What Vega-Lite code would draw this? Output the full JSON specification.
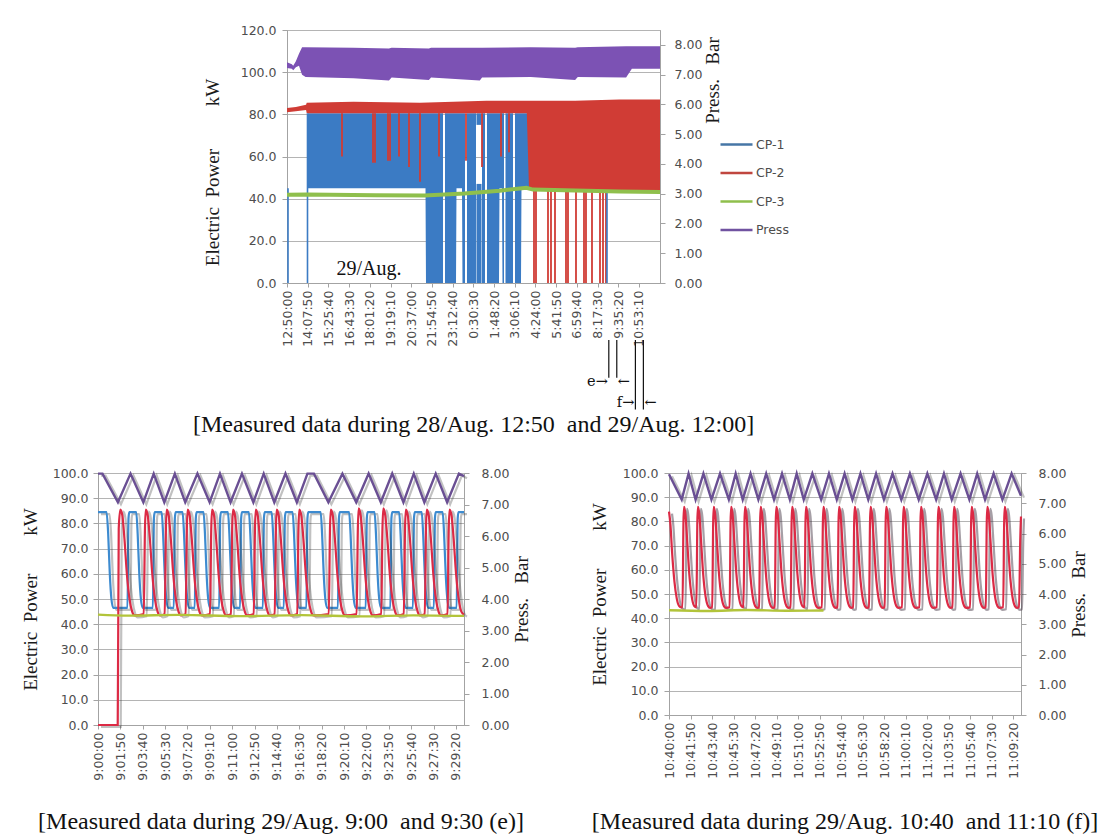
{
  "$schema": "https://vega.github.io/schema/vega-lite/v6.json",
  "background": "white",
  "padding": {"left": 20, "top": 23, "right": 0, "bottom": 0},
  "config": {
    "view": {"stroke": "#a3a3a3", "strokeWidth": 1},
    "axis": {
      "labelFont": "DejaVu Sans", "labelFontSize": 12.5, "labelColor": "#4d4d4d",
      "titleFont": "Liberation Serif", "titleFontSize": 19, "titleFontWeight": "normal", "titleColor": "#1a1a1a",
      "gridColor": "#b4b4b4", "domainColor": "#a3a3a3", "tickColor": "#a3a3a3", "tickSize": 5,
      "labelFlush": false, "labelOverlap": false
    },
    "title": {"font": "Liberation Serif", "fontSize": 24, "fontWeight": "normal", "color": "#111111"}
  },
  "datasets": {
    "top_cp1": [
      {"seg":1,"t":4738,"lo":45,"hi":80.5},{"seg":1,"t":31246,"lo":45,"hi":80.5},{"seg":1,"t":31358,"lo":0,"hi":80.5},{"seg":1,"t":35194,"lo":0,"hi":80.5},
      {"seg":2,"t":35645,"lo":0,"hi":80.5},{"seg":2,"t":38126,"lo":0,"hi":80.5},{"seg":2,"t":38240,"lo":45,"hi":80.5},{"seg":2,"t":39480,"lo":45,"hi":80.5},{"seg":2,"t":39590,"lo":0,"hi":80.5},{"seg":2,"t":40157,"lo":0,"hi":80.5},
      {"seg":3,"t":40608,"lo":0,"hi":80.5},{"seg":3,"t":42638,"lo":0,"hi":80.5},
      {"seg":4,"t":42750,"lo":75,"hi":80.5},{"seg":4,"t":43880,"lo":75,"hi":80.5},
      {"seg":5,"t":42750,"lo":0,"hi":47},{"seg":5,"t":43880,"lo":0,"hi":47},
      {"seg":6,"t":43992,"lo":0,"hi":80.5},{"seg":6,"t":44669,"lo":0,"hi":80.5},
      {"seg":7,"t":45120,"lo":0,"hi":80.5},{"seg":7,"t":47827,"lo":0,"hi":80.5},{"seg":7,"t":47940,"lo":45,"hi":80.5},{"seg":7,"t":48504,"lo":45,"hi":80.5},{"seg":7,"t":48617,"lo":0,"hi":80.5},{"seg":7,"t":48955,"lo":0,"hi":80.5},
      {"seg":8,"t":49294,"lo":0,"hi":80.5},{"seg":8,"t":50986,"lo":0,"hi":80.5},
      {"seg":9,"t":51437,"lo":0,"hi":80.5},{"seg":9,"t":52790,"lo":0,"hi":80.5},{"seg":9,"t":52900,"lo":45,"hi":80.5},{"seg":9,"t":54595,"lo":45,"hi":80.5}
    ],
    "top_cp2": [
      {"t":0,"lo":81,"hi":83},{"t":2000,"lo":81.5,"hi":83.5},{"t":4300,"lo":82,"hi":84.5},{"t":4450,"lo":80.5,"hi":85.5},
      {"t":15000,"lo":80.5,"hi":86},{"t":30000,"lo":80.5,"hi":85.5},{"t":45000,"lo":80.5,"hi":86.5},{"t":54100,"lo":80.5,"hi":86.5},
      {"t":54600,"lo":44.5,"hi":86.5},{"t":65000,"lo":44,"hi":86.5},{"t":75000,"lo":44,"hi":87},{"t":84150,"lo":44,"hi":87}
    ],
    "top_spk": [
      {"s":"CP-2","t":12408,"lo":60,"hi":80.5},{"s":"CP-2","t":19402,"lo":57,"hi":80.5},{"s":"CP-2","t":19853,"lo":57,"hi":80.5},
      {"s":"CP-2","t":22786,"lo":58,"hi":80.5},{"s":"CP-2","t":23237,"lo":58,"hi":80.5},{"s":"CP-2","t":25267,"lo":60,"hi":80.5},
      {"s":"CP-2","t":27523,"lo":55,"hi":80.5},{"s":"CP-2","t":30005,"lo":48,"hi":80.5},{"s":"CP-2","t":34291,"lo":60,"hi":80.5},
      {"s":"CP-2","t":40382,"lo":58,"hi":80.5},{"s":"CP-2","t":43992,"lo":55,"hi":80.5},{"s":"CP-2","t":48278,"lo":60,"hi":80.5},
      {"s":"CP-2","t":50083,"lo":62,"hi":80.5},
      {"s":"CP-2","t":55723,"lo":0,"hi":44.5},{"s":"CP-2","t":56174,"lo":0,"hi":44.5},{"s":"CP-2","t":58882,"lo":0,"hi":44.5},
      {"s":"CP-2","t":59558,"lo":0,"hi":44.5},{"s":"CP-2","t":60461,"lo":0,"hi":44.5},{"s":"CP-2","t":62942,"lo":0,"hi":44.5},
      {"s":"CP-2","t":63394,"lo":0,"hi":44.5},{"s":"CP-2","t":65198,"lo":0,"hi":44.5},{"s":"CP-2","t":67003,"lo":0,"hi":44.5},
      {"s":"CP-2","t":67454,"lo":0,"hi":44.5},{"s":"CP-2","t":68808,"lo":0,"hi":44.5},{"s":"CP-2","t":70613,"lo":0,"hi":44.5},
      {"s":"CP-2","t":71290,"lo":0,"hi":44.5},{"s":"CP-2","t":71966,"lo":0,"hi":44.5},
      {"s":"CP-1","t":226,"lo":0,"hi":45},{"s":"CP-1","t":4625,"lo":0,"hi":80.5},{"s":"CP-1","t":72192,"lo":0,"hi":43}
    ],
    "top_cp3": [
      {"s":"CP-3","t":0,"lo":41.8},{"s":"CP-3","t":4500,"lo":42},{"s":"CP-3","t":20000,"lo":41.6},{"s":"CP-3","t":31000,"lo":41.5},
      {"s":"CP-3","t":40000,"lo":42.5},{"s":"CP-3","t":48000,"lo":43.8},{"s":"CP-3","t":54000,"lo":45.2},{"s":"CP-3","t":55500,"lo":44.3},
      {"s":"CP-3","t":65000,"lo":43.9},{"s":"CP-3","t":75000,"lo":43.4},{"s":"CP-3","t":84150,"lo":43.2}
    ],
    "top_press": [
      {"t":0,"lo":7.22,"hi":7.42},{"t":1100,"lo":7.2,"hi":7.35},{"t":1400,"lo":7.15,"hi":7.3},{"t":2000,"lo":7.25,"hi":7.45},
      {"t":2700,"lo":7.3,"hi":7.7},{"t":3400,"lo":7.0,"hi":7.92},{"t":4200,"lo":6.92,"hi":7.92},{"t":15000,"lo":6.88,"hi":7.9},
      {"t":23000,"lo":6.8,"hi":7.88},{"t":23600,"lo":6.9,"hi":7.9},{"t":32000,"lo":6.82,"hi":7.88},{"t":32500,"lo":6.9,"hi":7.9},
      {"t":43500,"lo":6.8,"hi":7.9},{"t":44000,"lo":6.9,"hi":7.9},{"t":55000,"lo":6.92,"hi":7.92},{"t":65000,"lo":6.82,"hi":7.9},
      {"t":65600,"lo":6.92,"hi":7.92},{"t":76500,"lo":6.9,"hi":7.95},{"t":77800,"lo":7.2,"hi":7.95},{"t":84150,"lo":7.2,"hi":7.95}
    ],
    "top_txt": [{"t":18500,"lo":6.5,"txt":"29/Aug."}],
    "top_ef": [
      {"lab":"e","side":"L","t":72600,"txt":"e→"},{"lab":"e","side":"R","t":74400,"txt":"←"},
      {"lab":"f","side":"L","t":78600,"txt":"f→"},{"lab":"f","side":"R","t":80400,"txt":"←"}
    ],
    "e_l": [
      {"s":"CP-1","t":0,"v":84.5},{"s":"CP-1","t":42,"v":84.5},{"s":"CP-1","t":50,"v":76},{"s":"CP-1","t":58,"v":60},{"s":"CP-1","t":66,"v":50},{"s":"CP-1","t":75,"v":46.5},
      {"s":"CP-1","t":145,"v":46.5},{"s":"CP-1","t":150,"v":82},{"s":"CP-1","t":154,"v":84.5},{"s":"CP-1","t":188,"v":84.5},{"s":"CP-1","t":195,"v":76},{"s":"CP-1","t":203,"v":60},{"s":"CP-1","t":211,"v":50},{"s":"CP-1","t":220,"v":46.5},
      {"s":"CP-1","t":270,"v":46.5},{"s":"CP-1","t":275,"v":82},{"s":"CP-1","t":279,"v":84.5},{"s":"CP-1","t":313,"v":84.5},{"s":"CP-1","t":320,"v":76},{"s":"CP-1","t":328,"v":60},{"s":"CP-1","t":336,"v":50},{"s":"CP-1","t":345,"v":46.5},
      {"s":"CP-1","t":373,"v":46.5},{"s":"CP-1","t":378,"v":82},{"s":"CP-1","t":382,"v":84.5},{"s":"CP-1","t":416,"v":84.5},{"s":"CP-1","t":423,"v":76},{"s":"CP-1","t":431,"v":60},{"s":"CP-1","t":439,"v":50},{"s":"CP-1","t":448,"v":46.5},
      {"s":"CP-1","t":476,"v":46.5},{"s":"CP-1","t":481,"v":82},{"s":"CP-1","t":485,"v":84.5},{"s":"CP-1","t":519,"v":84.5},{"s":"CP-1","t":526,"v":76},{"s":"CP-1","t":534,"v":60},{"s":"CP-1","t":542,"v":50},{"s":"CP-1","t":551,"v":46.5},
      {"s":"CP-1","t":596,"v":46.5},{"s":"CP-1","t":601,"v":82},{"s":"CP-1","t":605,"v":84.5},{"s":"CP-1","t":639,"v":84.5},{"s":"CP-1","t":646,"v":76},{"s":"CP-1","t":654,"v":60},{"s":"CP-1","t":662,"v":50},{"s":"CP-1","t":671,"v":46.5},
      {"s":"CP-1","t":699,"v":46.5},{"s":"CP-1","t":704,"v":82},{"s":"CP-1","t":708,"v":84.5},{"s":"CP-1","t":742,"v":84.5},{"s":"CP-1","t":749,"v":76},{"s":"CP-1","t":757,"v":60},{"s":"CP-1","t":765,"v":50},{"s":"CP-1","t":774,"v":46.5},
      {"s":"CP-1","t":811,"v":46.5},{"s":"CP-1","t":816,"v":82},{"s":"CP-1","t":820,"v":84.5},{"s":"CP-1","t":854,"v":84.5},{"s":"CP-1","t":861,"v":76},{"s":"CP-1","t":869,"v":60},{"s":"CP-1","t":877,"v":50},{"s":"CP-1","t":886,"v":46.5},
      {"s":"CP-1","t":914,"v":46.5},{"s":"CP-1","t":919,"v":82},{"s":"CP-1","t":923,"v":84.5},{"s":"CP-1","t":957,"v":84.5},{"s":"CP-1","t":964,"v":76},{"s":"CP-1","t":972,"v":60},{"s":"CP-1","t":980,"v":50},{"s":"CP-1","t":989,"v":46.5},
      {"s":"CP-1","t":1025,"v":46.5},{"s":"CP-1","t":1030,"v":82},{"s":"CP-1","t":1034,"v":84.5},{"s":"CP-1","t":1095,"v":84.5},{"s":"CP-1","t":1102,"v":76},{"s":"CP-1","t":1110,"v":60},{"s":"CP-1","t":1118,"v":50},{"s":"CP-1","t":1127,"v":46.5},
      {"s":"CP-1","t":1180,"v":46.5},{"s":"CP-1","t":1185,"v":82},{"s":"CP-1","t":1189,"v":84.5},{"s":"CP-1","t":1235,"v":84.5},{"s":"CP-1","t":1242,"v":76},{"s":"CP-1","t":1250,"v":60},{"s":"CP-1","t":1258,"v":50},{"s":"CP-1","t":1267,"v":46.5},
      {"s":"CP-1","t":1317,"v":46.5},{"s":"CP-1","t":1322,"v":82},{"s":"CP-1","t":1326,"v":84.5},{"s":"CP-1","t":1360,"v":84.5},{"s":"CP-1","t":1367,"v":76},{"s":"CP-1","t":1375,"v":60},{"s":"CP-1","t":1383,"v":50},{"s":"CP-1","t":1392,"v":46.5},
      {"s":"CP-1","t":1438,"v":46.5},{"s":"CP-1","t":1443,"v":82},{"s":"CP-1","t":1447,"v":84.5},{"s":"CP-1","t":1481,"v":84.5},{"s":"CP-1","t":1488,"v":76},{"s":"CP-1","t":1496,"v":60},{"s":"CP-1","t":1504,"v":50},{"s":"CP-1","t":1513,"v":46.5},
      {"s":"CP-1","t":1549,"v":46.5},{"s":"CP-1","t":1554,"v":82},{"s":"CP-1","t":1558,"v":84.5},{"s":"CP-1","t":1592,"v":84.5},{"s":"CP-1","t":1599,"v":76},{"s":"CP-1","t":1607,"v":60},{"s":"CP-1","t":1615,"v":50},{"s":"CP-1","t":1624,"v":46.5},
      {"s":"CP-1","t":1652,"v":46.5},{"s":"CP-1","t":1657,"v":82},{"s":"CP-1","t":1661,"v":84.5},{"s":"CP-1","t":1695,"v":84.5},{"s":"CP-1","t":1702,"v":76},{"s":"CP-1","t":1710,"v":60},{"s":"CP-1","t":1718,"v":50},{"s":"CP-1","t":1727,"v":46.5},
      {"s":"CP-1","t":1764,"v":46.5},{"s":"CP-1","t":1769,"v":82},{"s":"CP-1","t":1773,"v":84.5},{"s":"CP-1","t":1800,"v":84.5},
      {"s":"CP-2","t":0,"v":0},{"s":"CP-2","t":97,"v":0},{"s":"CP-2","t":102,"v":78},{"s":"CP-2","t":110,"v":85.5},{"s":"CP-2","t":120,"v":83},{"s":"CP-2","t":130,"v":74},{"s":"CP-2","t":142,"v":60},{"s":"CP-2","t":155,"v":50},{"s":"CP-2","t":168,"v":45},{"s":"CP-2","t":180,"v":43.5},
      {"s":"CP-2","t":225,"v":44},{"s":"CP-2","t":231,"v":78},{"s":"CP-2","t":235,"v":85.5},{"s":"CP-2","t":245,"v":83},{"s":"CP-2","t":255,"v":74},{"s":"CP-2","t":267,"v":60},{"s":"CP-2","t":280,"v":50},{"s":"CP-2","t":293,"v":45},{"s":"CP-2","t":305,"v":43.5},
      {"s":"CP-2","t":328,"v":44},{"s":"CP-2","t":334,"v":78},{"s":"CP-2","t":338,"v":85.5},{"s":"CP-2","t":348,"v":83},{"s":"CP-2","t":358,"v":74},{"s":"CP-2","t":370,"v":60},{"s":"CP-2","t":383,"v":50},{"s":"CP-2","t":396,"v":45},{"s":"CP-2","t":408,"v":43.5},
      {"s":"CP-2","t":431,"v":44},{"s":"CP-2","t":437,"v":78},{"s":"CP-2","t":441,"v":85.5},{"s":"CP-2","t":451,"v":83},{"s":"CP-2","t":461,"v":74},{"s":"CP-2","t":473,"v":60},{"s":"CP-2","t":486,"v":50},{"s":"CP-2","t":499,"v":45},{"s":"CP-2","t":511,"v":43.5},
      {"s":"CP-2","t":551,"v":44},{"s":"CP-2","t":557,"v":78},{"s":"CP-2","t":561,"v":85.5},{"s":"CP-2","t":571,"v":83},{"s":"CP-2","t":581,"v":74},{"s":"CP-2","t":593,"v":60},{"s":"CP-2","t":606,"v":50},{"s":"CP-2","t":619,"v":45},{"s":"CP-2","t":631,"v":43.5},
      {"s":"CP-2","t":654,"v":44},{"s":"CP-2","t":660,"v":78},{"s":"CP-2","t":664,"v":85.5},{"s":"CP-2","t":674,"v":83},{"s":"CP-2","t":684,"v":74},{"s":"CP-2","t":696,"v":60},{"s":"CP-2","t":709,"v":50},{"s":"CP-2","t":722,"v":45},{"s":"CP-2","t":734,"v":43.5},
      {"s":"CP-2","t":766,"v":44},{"s":"CP-2","t":772,"v":78},{"s":"CP-2","t":776,"v":85.5},{"s":"CP-2","t":786,"v":83},{"s":"CP-2","t":796,"v":74},{"s":"CP-2","t":808,"v":60},{"s":"CP-2","t":821,"v":50},{"s":"CP-2","t":834,"v":45},{"s":"CP-2","t":846,"v":43.5},
      {"s":"CP-2","t":869,"v":44},{"s":"CP-2","t":875,"v":78},{"s":"CP-2","t":879,"v":85.5},{"s":"CP-2","t":889,"v":83},{"s":"CP-2","t":899,"v":74},{"s":"CP-2","t":911,"v":60},{"s":"CP-2","t":924,"v":50},{"s":"CP-2","t":937,"v":45},{"s":"CP-2","t":949,"v":43.5},
      {"s":"CP-2","t":980,"v":44},{"s":"CP-2","t":986,"v":78},{"s":"CP-2","t":990,"v":85.5},{"s":"CP-2","t":1000,"v":83},{"s":"CP-2","t":1010,"v":74},{"s":"CP-2","t":1022,"v":60},{"s":"CP-2","t":1035,"v":50},{"s":"CP-2","t":1048,"v":45},{"s":"CP-2","t":1060,"v":43.5},
      {"s":"CP-2","t":1135,"v":44},{"s":"CP-2","t":1141,"v":78},{"s":"CP-2","t":1145,"v":85.5},{"s":"CP-2","t":1155,"v":83},{"s":"CP-2","t":1165,"v":74},{"s":"CP-2","t":1177,"v":60},{"s":"CP-2","t":1190,"v":50},{"s":"CP-2","t":1203,"v":45},{"s":"CP-2","t":1215,"v":43.5},
      {"s":"CP-2","t":1272,"v":44},{"s":"CP-2","t":1278,"v":78},{"s":"CP-2","t":1282,"v":86},{"s":"CP-2","t":1292,"v":83},{"s":"CP-2","t":1302,"v":74},{"s":"CP-2","t":1314,"v":60},{"s":"CP-2","t":1327,"v":50},{"s":"CP-2","t":1340,"v":45},{"s":"CP-2","t":1352,"v":43.5},
      {"s":"CP-2","t":1393,"v":44},{"s":"CP-2","t":1399,"v":78},{"s":"CP-2","t":1403,"v":86},{"s":"CP-2","t":1413,"v":83},{"s":"CP-2","t":1423,"v":74},{"s":"CP-2","t":1435,"v":60},{"s":"CP-2","t":1448,"v":50},{"s":"CP-2","t":1461,"v":45},{"s":"CP-2","t":1473,"v":43.5},
      {"s":"CP-2","t":1504,"v":44},{"s":"CP-2","t":1510,"v":78},{"s":"CP-2","t":1514,"v":85.5},{"s":"CP-2","t":1524,"v":83},{"s":"CP-2","t":1534,"v":74},{"s":"CP-2","t":1546,"v":60},{"s":"CP-2","t":1559,"v":50},{"s":"CP-2","t":1572,"v":45},{"s":"CP-2","t":1584,"v":43.5},
      {"s":"CP-2","t":1607,"v":44},{"s":"CP-2","t":1613,"v":78},{"s":"CP-2","t":1617,"v":85.5},{"s":"CP-2","t":1627,"v":83},{"s":"CP-2","t":1637,"v":74},{"s":"CP-2","t":1649,"v":60},{"s":"CP-2","t":1662,"v":50},{"s":"CP-2","t":1675,"v":45},{"s":"CP-2","t":1687,"v":43.5},
      {"s":"CP-2","t":1719,"v":44},{"s":"CP-2","t":1725,"v":78},{"s":"CP-2","t":1729,"v":85.5},{"s":"CP-2","t":1739,"v":83},{"s":"CP-2","t":1749,"v":74},{"s":"CP-2","t":1761,"v":60},{"s":"CP-2","t":1774,"v":50},{"s":"CP-2","t":1787,"v":45},{"s":"CP-2","t":1800,"v":43.8},
      {"s":"CP-3","t":0,"v":43.8},{"s":"CP-3","t":150,"v":43.4},{"s":"CP-3","t":400,"v":43.7},{"s":"CP-3","t":700,"v":43.2},{"s":"CP-3","t":1000,"v":43.6},{"s":"CP-3","t":1300,"v":43.1},{"s":"CP-3","t":1550,"v":43.5},{"s":"CP-3","t":1800,"v":43.3}
    ],
    "e_p": [
      {"t":0,"v":7.98},{"t":22,"v":7.98},{"t":98,"v":7.07},{"t":160,"v":7.98},{"t":223,"v":7.07},{"t":274,"v":7.98},{"t":326,"v":7.07},{"t":378,"v":7.98},
      {"t":429,"v":7.07},{"t":489,"v":7.98},{"t":549,"v":7.07},{"t":600,"v":7.98},{"t":652,"v":7.07},{"t":708,"v":7.98},{"t":764,"v":7.07},{"t":815,"v":7.98},
      {"t":867,"v":7.07},{"t":922,"v":7.98},{"t":978,"v":7.07},{"t":1030,"v":7.98},{"t":1062,"v":7.98},{"t":1133,"v":7.07},{"t":1202,"v":7.98},{"t":1270,"v":7.07},
      {"t":1331,"v":7.98},{"t":1391,"v":7.07},{"t":1447,"v":7.98},{"t":1502,"v":7.07},{"t":1553,"v":7.98},{"t":1605,"v":7.07},{"t":1661,"v":7.98},{"t":1717,"v":7.07},
      {"t":1775,"v":7.98},{"t":1800,"v":7.9}
    ],
    "f_l": [
      {"s":"CP-2","t":0,"v":84},{"s":"CP-2","t":7,"v":79},{"s":"CP-2","t":16,"v":67},{"s":"CP-2","t":28,"v":55},{"s":"CP-2","t":40,"v":48},{"s":"CP-2","t":52,"v":45},{"s":"CP-2","t":62,"v":44.5},
      {"s":"CP-2","t":69,"v":44.5},{"s":"CP-2","t":74,"v":80},{"s":"CP-2","t":77,"v":86},{"s":"CP-2","t":84,"v":83},{"s":"CP-2","t":93,"v":72},{"s":"CP-2","t":104,"v":58},{"s":"CP-2","t":116,"v":49},{"s":"CP-2","t":129,"v":45},
      {"s":"CP-2","t":140,"v":44.5},{"s":"CP-2","t":145,"v":80},{"s":"CP-2","t":148,"v":86},{"s":"CP-2","t":155,"v":83},{"s":"CP-2","t":164,"v":72},{"s":"CP-2","t":175,"v":58},{"s":"CP-2","t":187,"v":49},{"s":"CP-2","t":200,"v":45},{"s":"CP-2","t":210,"v":44.3},
      {"s":"CP-2","t":221,"v":44.5},{"s":"CP-2","t":226,"v":80},{"s":"CP-2","t":229,"v":86},{"s":"CP-2","t":236,"v":83},{"s":"CP-2","t":245,"v":72},{"s":"CP-2","t":256,"v":58},{"s":"CP-2","t":268,"v":49},{"s":"CP-2","t":281,"v":45},{"s":"CP-2","t":291,"v":44.3},
      {"s":"CP-2","t":310,"v":44.5},{"s":"CP-2","t":315,"v":80},{"s":"CP-2","t":318,"v":86},{"s":"CP-2","t":325,"v":83},{"s":"CP-2","t":334,"v":72},{"s":"CP-2","t":345,"v":58},{"s":"CP-2","t":357,"v":49},{"s":"CP-2","t":370,"v":45},
      {"s":"CP-2","t":381,"v":44.5},{"s":"CP-2","t":386,"v":80},{"s":"CP-2","t":389,"v":86},{"s":"CP-2","t":396,"v":83},{"s":"CP-2","t":405,"v":72},{"s":"CP-2","t":416,"v":58},{"s":"CP-2","t":428,"v":49},{"s":"CP-2","t":441,"v":45},{"s":"CP-2","t":451,"v":44.3},
      {"s":"CP-2","t":461,"v":44.5},{"s":"CP-2","t":466,"v":80},{"s":"CP-2","t":469,"v":86},{"s":"CP-2","t":476,"v":83},{"s":"CP-2","t":485,"v":72},{"s":"CP-2","t":496,"v":58},{"s":"CP-2","t":508,"v":49},{"s":"CP-2","t":521,"v":45},{"s":"CP-2","t":531,"v":44.3},
      {"s":"CP-2","t":541,"v":44.5},{"s":"CP-2","t":546,"v":80},{"s":"CP-2","t":549,"v":86},{"s":"CP-2","t":556,"v":83},{"s":"CP-2","t":565,"v":72},{"s":"CP-2","t":576,"v":58},{"s":"CP-2","t":588,"v":49},{"s":"CP-2","t":601,"v":45},{"s":"CP-2","t":611,"v":44.3},
      {"s":"CP-2","t":622,"v":44.5},{"s":"CP-2","t":627,"v":80},{"s":"CP-2","t":630,"v":86},{"s":"CP-2","t":637,"v":83},{"s":"CP-2","t":646,"v":72},{"s":"CP-2","t":657,"v":58},{"s":"CP-2","t":669,"v":49},{"s":"CP-2","t":682,"v":45},
      {"s":"CP-2","t":693,"v":44.5},{"s":"CP-2","t":698,"v":80},{"s":"CP-2","t":701,"v":86},{"s":"CP-2","t":708,"v":83},{"s":"CP-2","t":717,"v":72},{"s":"CP-2","t":728,"v":58},{"s":"CP-2","t":740,"v":49},{"s":"CP-2","t":753,"v":45},{"s":"CP-2","t":763,"v":44.3},
      {"s":"CP-2","t":782,"v":44.5},{"s":"CP-2","t":787,"v":80},{"s":"CP-2","t":790,"v":86},{"s":"CP-2","t":797,"v":83},{"s":"CP-2","t":806,"v":72},{"s":"CP-2","t":817,"v":58},{"s":"CP-2","t":829,"v":49},{"s":"CP-2","t":842,"v":45},{"s":"CP-2","t":852,"v":44.3},
      {"s":"CP-2","t":862,"v":44.5},{"s":"CP-2","t":867,"v":80},{"s":"CP-2","t":870,"v":86},{"s":"CP-2","t":877,"v":83},{"s":"CP-2","t":886,"v":72},{"s":"CP-2","t":897,"v":58},{"s":"CP-2","t":909,"v":49},{"s":"CP-2","t":922,"v":45},{"s":"CP-2","t":932,"v":44.3},
      {"s":"CP-2","t":942,"v":44.5},{"s":"CP-2","t":947,"v":80},{"s":"CP-2","t":950,"v":86},{"s":"CP-2","t":957,"v":83},{"s":"CP-2","t":966,"v":72},{"s":"CP-2","t":977,"v":58},{"s":"CP-2","t":989,"v":49},{"s":"CP-2","t":1002,"v":45},{"s":"CP-2","t":1012,"v":44.3},
      {"s":"CP-2","t":1023,"v":44.5},{"s":"CP-2","t":1028,"v":80},{"s":"CP-2","t":1031,"v":86},{"s":"CP-2","t":1038,"v":83},{"s":"CP-2","t":1047,"v":72},{"s":"CP-2","t":1058,"v":58},{"s":"CP-2","t":1070,"v":49},{"s":"CP-2","t":1083,"v":45},{"s":"CP-2","t":1093,"v":44.3},
      {"s":"CP-2","t":1103,"v":44.5},{"s":"CP-2","t":1108,"v":80},{"s":"CP-2","t":1111,"v":86},{"s":"CP-2","t":1118,"v":83},{"s":"CP-2","t":1127,"v":72},{"s":"CP-2","t":1138,"v":58},{"s":"CP-2","t":1150,"v":49},{"s":"CP-2","t":1163,"v":45},{"s":"CP-2","t":1173,"v":44.3},
      {"s":"CP-2","t":1192,"v":44.5},{"s":"CP-2","t":1197,"v":80},{"s":"CP-2","t":1200,"v":86},{"s":"CP-2","t":1207,"v":83},{"s":"CP-2","t":1216,"v":72},{"s":"CP-2","t":1227,"v":58},{"s":"CP-2","t":1239,"v":49},{"s":"CP-2","t":1252,"v":45},{"s":"CP-2","t":1262,"v":44.3},
      {"s":"CP-2","t":1281,"v":44.5},{"s":"CP-2","t":1286,"v":80},{"s":"CP-2","t":1289,"v":86},{"s":"CP-2","t":1296,"v":83},{"s":"CP-2","t":1305,"v":72},{"s":"CP-2","t":1316,"v":58},{"s":"CP-2","t":1328,"v":49},{"s":"CP-2","t":1341,"v":45},{"s":"CP-2","t":1351,"v":44.3},
      {"s":"CP-2","t":1370,"v":44.5},{"s":"CP-2","t":1375,"v":80},{"s":"CP-2","t":1378,"v":86},{"s":"CP-2","t":1385,"v":83},{"s":"CP-2","t":1394,"v":72},{"s":"CP-2","t":1405,"v":58},{"s":"CP-2","t":1417,"v":49},{"s":"CP-2","t":1430,"v":45},{"s":"CP-2","t":1440,"v":44.3},
      {"s":"CP-2","t":1450,"v":44.5},{"s":"CP-2","t":1455,"v":80},{"s":"CP-2","t":1458,"v":86},{"s":"CP-2","t":1465,"v":83},{"s":"CP-2","t":1474,"v":72},{"s":"CP-2","t":1485,"v":58},{"s":"CP-2","t":1497,"v":49},{"s":"CP-2","t":1510,"v":45},{"s":"CP-2","t":1520,"v":44.3},
      {"s":"CP-2","t":1540,"v":44.5},{"s":"CP-2","t":1545,"v":80},{"s":"CP-2","t":1548,"v":86},{"s":"CP-2","t":1555,"v":83},{"s":"CP-2","t":1564,"v":72},{"s":"CP-2","t":1575,"v":58},{"s":"CP-2","t":1587,"v":49},{"s":"CP-2","t":1600,"v":45},{"s":"CP-2","t":1610,"v":44.3},
      {"s":"CP-2","t":1620,"v":44.5},{"s":"CP-2","t":1625,"v":80},{"s":"CP-2","t":1628,"v":86},{"s":"CP-2","t":1635,"v":83},{"s":"CP-2","t":1644,"v":72},{"s":"CP-2","t":1655,"v":58},{"s":"CP-2","t":1667,"v":49},{"s":"CP-2","t":1680,"v":45},{"s":"CP-2","t":1690,"v":44.3},
      {"s":"CP-2","t":1709,"v":44.5},{"s":"CP-2","t":1714,"v":80},{"s":"CP-2","t":1717,"v":86},{"s":"CP-2","t":1724,"v":83},{"s":"CP-2","t":1733,"v":72},{"s":"CP-2","t":1744,"v":58},{"s":"CP-2","t":1756,"v":49},{"s":"CP-2","t":1769,"v":45},{"s":"CP-2","t":1779,"v":44.3},
      {"s":"CP-2","t":1790,"v":44.5},{"s":"CP-2","t":1796,"v":72},{"s":"CP-2","t":1800,"v":82},
      {"s":"CP-3","t":0,"v":43.3},{"s":"CP-3","t":200,"v":43},{"s":"CP-3","t":400,"v":43.4},{"s":"CP-3","t":600,"v":43.1},{"s":"CP-3","t":790,"v":43.2}
    ],
    "f_p": [
      {"t":0,"v":7.96},{"t":65,"v":7.12},{"t":100,"v":7.98},{"t":136,"v":7.12},{"t":176,"v":7.98},{"t":217,"v":7.12},{"t":261,"v":7.98},{"t":306,"v":7.12},
      {"t":341,"v":7.98},{"t":377,"v":7.12},{"t":417,"v":7.98},{"t":457,"v":7.12},{"t":497,"v":7.98},{"t":537,"v":7.12},{"t":578,"v":7.98},{"t":618,"v":7.12},
      {"t":653,"v":7.98},{"t":689,"v":7.12},{"t":733,"v":7.98},{"t":778,"v":7.12},{"t":818,"v":7.98},{"t":858,"v":7.12},{"t":898,"v":7.98},{"t":938,"v":7.12},
      {"t":979,"v":7.98},{"t":1019,"v":7.12},{"t":1059,"v":7.98},{"t":1099,"v":7.12},{"t":1143,"v":7.98},{"t":1188,"v":7.12},{"t":1232,"v":7.98},{"t":1277,"v":7.12},
      {"t":1321,"v":7.98},{"t":1366,"v":7.12},{"t":1406,"v":7.98},{"t":1446,"v":7.12},{"t":1491,"v":7.98},{"t":1536,"v":7.12},{"t":1576,"v":7.98},{"t":1616,"v":7.12},
      {"t":1660,"v":7.98},{"t":1705,"v":7.12},{"t":1752,"v":7.98},{"t":1800,"v":7.25}
    ]
  },
  "resolve": {"scale": {"stroke": "independent"}, "legend": {"stroke": "independent"}},
  "spacing": 28,
  "vconcat": [
    {
      "spacing": 10,
      "resolve": {"scale": {"stroke": "independent"}, "legend": {"stroke": "independent"}},
      "hconcat": [
        {"width": 84, "height": 5, "view": {"stroke": null}, "data": {"values": []}, "mark": "point"},
        {
          "width": 373, "height": 253,
          "title": {"text": "[Measured data during 28/Aug. 12:50\u00a0 and 29/Aug. 12:00]", "orient": "bottom", "anchor": "middle", "frame": "group", "offset": 3},
          "encoding": {
            "x": {"field": "t", "type": "quantitative", "scale": {"domain": [0, 84150], "nice": false, "zero": false},
              "axis": {"values": [0,4670,9340,14010,18680,23350,28020,32690,37360,42030,46700,51370,56040,60710,65380,70050,74720,79390],
                "labelExpr": "utcFormat((datum.value + 46200) * 1000, '%-H:%M:%S')",
                "labelAngle": 270, "labelPadding": 3, "tickSize": 4, "grid": false, "title": null}}
          },
          "layer": [
            {
              "layer": [
                {"data": {"name": "top_cp1"}, "mark": {"type": "area", "color": "#3b7bc4"},
                  "encoding": {
                    "y": {"field": "lo", "type": "quantitative", "scale": {"domain": [0, 120], "nice": false, "zero": false},
                      "axis": {"values": [0,20,40,60,80,100,120], "format": ".1f", "grid": true, "labelPadding": 6,
                        "title": "Electric\u00a0 Power\u00a0\u00a0\u00a0\u00a0\u00a0\u00a0\u00a0\u00a0 kW", "titlePadding": 18, "titleY": 142}},
                    "y2": {"field": "hi"}, "detail": {"field": "seg", "type": "nominal"}}},
                {"data": {"name": "top_cp2"}, "mark": {"type": "area", "color": "#d03c35"},
                  "encoding": {
                    "y": {"field": "lo", "type": "quantitative", "scale": {"domain": [0, 120], "nice": false, "zero": false},
                      "axis": {"values": [0,20,40,60,80,100,120], "format": ".1f", "grid": true, "labelPadding": 6,
                        "title": "Electric\u00a0 Power\u00a0\u00a0\u00a0\u00a0\u00a0\u00a0\u00a0\u00a0 kW", "titlePadding": 18, "titleY": 142}},
                    "y2": {"field": "hi"}}},
                {"data": {"name": "top_spk"}, "transform": [{"filter": "datum.s == 'CP-2'"}], "mark": {"type": "rule", "color": "#d03c35", "strokeWidth": 1.8},
                  "encoding": {
                    "y": {"field": "lo", "type": "quantitative", "scale": {"domain": [0, 120], "nice": false, "zero": false},
                      "axis": {"values": [0,20,40,60,80,100,120], "format": ".1f", "grid": true, "labelPadding": 6,
                        "title": "Electric\u00a0 Power\u00a0\u00a0\u00a0\u00a0\u00a0\u00a0\u00a0\u00a0 kW", "titlePadding": 18, "titleY": 142}},
                    "y2": {"field": "hi"}}},
                {"data": {"name": "top_spk"}, "transform": [{"filter": "datum.s == 'CP-1'"}], "mark": {"type": "rule", "color": "#3b7bc4", "strokeWidth": 1.6},
                  "encoding": {
                    "y": {"field": "lo", "type": "quantitative", "scale": {"domain": [0, 120], "nice": false, "zero": false},
                      "axis": {"values": [0,20,40,60,80,100,120], "format": ".1f", "grid": true, "labelPadding": 6,
                        "title": "Electric\u00a0 Power\u00a0\u00a0\u00a0\u00a0\u00a0\u00a0\u00a0\u00a0 kW", "titlePadding": 18, "titleY": 142}},
                    "y2": {"field": "hi"}}},
                {"data": {"name": "top_cp3"}, "mark": {"type": "line", "strokeWidth": 4},
                  "encoding": {
                    "y": {"field": "lo", "type": "quantitative", "scale": {"domain": [0, 120], "nice": false, "zero": false},
                      "axis": {"values": [0,20,40,60,80,100,120], "format": ".1f", "grid": true, "labelPadding": 6,
                        "title": "Electric\u00a0 Power\u00a0\u00a0\u00a0\u00a0\u00a0\u00a0\u00a0\u00a0 kW", "titlePadding": 18, "titleY": 142}},
                    "stroke": {"field": "s", "type": "nominal",
                      "scale": {"domain": ["CP-1", "CP-2", "CP-3", "Press"], "range": ["#4676a6", "#c0463f", "#8fbf4c", "#7052a0"]},
                      "legend": {"orient": "none", "legendX": 432, "legendY": 97, "title": null, "symbolType": "stroke", "symbolSize": 1024,
                        "symbolStrokeWidth": 2.5, "labelFont": "DejaVu Sans", "labelFontSize": 12.5, "labelColor": "#4d4d4d",
                        "rowPadding": 4.5, "labelOffset": 2, "padding": 0}}}},
                {"data": {"name": "top_txt"}, "mark": {"type": "text", "font": "Liberation Serif", "fontSize": 20, "color": "#111111"},
                  "encoding": {
                    "y": {"field": "lo", "type": "quantitative", "scale": {"domain": [0, 120], "nice": false, "zero": false},
                      "axis": {"values": [0,20,40,60,80,100,120], "format": ".1f", "grid": true, "labelPadding": 6,
                        "title": "Electric\u00a0 Power\u00a0\u00a0\u00a0\u00a0\u00a0\u00a0\u00a0\u00a0 kW", "titlePadding": 18, "titleY": 142}},
                    "text": {"field": "txt"}}},
                {"data": {"name": "top_ef"}, "transform": [{"filter": "datum.lab == 'e'"}], "mark": {"type": "rule", "color": "#111111", "strokeWidth": 1.2},
                  "encoding": {"y": {"datum": -27, "type": "quantitative", "scale": {"domain": [0, 120], "nice": false, "zero": false},
                    "axis": {"values": [0,20,40,60,80,100,120], "format": ".1f", "grid": true, "labelPadding": 6,
                      "title": "Electric\u00a0 Power\u00a0\u00a0\u00a0\u00a0\u00a0\u00a0\u00a0\u00a0 kW", "titlePadding": 18, "titleY": 142}}, "y2": {"datum": -45}}},
                {"data": {"name": "top_ef"}, "transform": [{"filter": "datum.lab == 'f'"}], "mark": {"type": "rule", "color": "#111111", "strokeWidth": 1.2},
                  "encoding": {"y": {"datum": -27, "type": "quantitative", "scale": {"domain": [0, 120], "nice": false, "zero": false},
                    "axis": {"values": [0,20,40,60,80,100,120], "format": ".1f", "grid": true, "labelPadding": 6,
                      "title": "Electric\u00a0 Power\u00a0\u00a0\u00a0\u00a0\u00a0\u00a0\u00a0\u00a0 kW", "titlePadding": 18, "titleY": 142}}, "y2": {"datum": -60}}},
                {"data": {"name": "top_ef"}, "transform": [{"filter": "datum.lab == 'e' && datum.side == 'L'"}], "mark": {"type": "text", "align": "right", "dx": -1, "font": "DejaVu Serif", "fontSize": 14.5, "color": "#111111"},
                  "encoding": {"y": {"datum": -47, "type": "quantitative", "scale": {"domain": [0, 120], "nice": false, "zero": false},
                    "axis": {"values": [0,20,40,60,80,100,120], "format": ".1f", "grid": true, "labelPadding": 6,
                      "title": "Electric\u00a0 Power\u00a0\u00a0\u00a0\u00a0\u00a0\u00a0\u00a0\u00a0 kW", "titlePadding": 18, "titleY": 142}}, "text": {"field": "txt"}}},
                {"data": {"name": "top_ef"}, "transform": [{"filter": "datum.lab == 'e' && datum.side == 'R'"}], "mark": {"type": "text", "align": "left", "dx": 1, "font": "DejaVu Serif", "fontSize": 14.5, "color": "#111111"},
                  "encoding": {"y": {"datum": -47, "type": "quantitative", "scale": {"domain": [0, 120], "nice": false, "zero": false},
                    "axis": {"values": [0,20,40,60,80,100,120], "format": ".1f", "grid": true, "labelPadding": 6,
                      "title": "Electric\u00a0 Power\u00a0\u00a0\u00a0\u00a0\u00a0\u00a0\u00a0\u00a0 kW", "titlePadding": 18, "titleY": 142}}, "text": {"field": "txt"}}},
                {"data": {"name": "top_ef"}, "transform": [{"filter": "datum.lab == 'f' && datum.side == 'L'"}], "mark": {"type": "text", "align": "right", "dx": -1, "font": "DejaVu Serif", "fontSize": 14.5, "color": "#111111"},
                  "encoding": {"y": {"datum": -57, "type": "quantitative", "scale": {"domain": [0, 120], "nice": false, "zero": false},
                    "axis": {"values": [0,20,40,60,80,100,120], "format": ".1f", "grid": true, "labelPadding": 6,
                      "title": "Electric\u00a0 Power\u00a0\u00a0\u00a0\u00a0\u00a0\u00a0\u00a0\u00a0 kW", "titlePadding": 18, "titleY": 142}}, "text": {"field": "txt"}}},
                {"data": {"name": "top_ef"}, "transform": [{"filter": "datum.lab == 'f' && datum.side == 'R'"}], "mark": {"type": "text", "align": "left", "dx": 1, "font": "DejaVu Serif", "fontSize": 14.5, "color": "#111111"},
                  "encoding": {"y": {"datum": -57, "type": "quantitative", "scale": {"domain": [0, 120], "nice": false, "zero": false},
                    "axis": {"values": [0,20,40,60,80,100,120], "format": ".1f", "grid": true, "labelPadding": 6,
                      "title": "Electric\u00a0 Power\u00a0\u00a0\u00a0\u00a0\u00a0\u00a0\u00a0\u00a0 kW", "titlePadding": 18, "titleY": 142}}, "text": {"field": "txt"}}}
              ]
            },
            {"data": {"name": "top_press"}, "mark": {"type": "area", "color": "#7c52b4"},
              "encoding": {"y": {"field": "lo", "type": "quantitative", "scale": {"domain": [0, 8.5], "nice": false, "zero": false},
                  "axis": {"orient": "right", "values": [0,1,2,3,4,5,6,7,8], "format": ".2f", "grid": false, "labelPadding": 9,
                    "title": "Press.\u00a0\u00a0 Bar", "titleAngle": 270, "titleBaseline": "top", "titlePadding": 2, "titleY": 50}},
                "y2": {"field": "hi"}}}
          ],
          "resolve": {"scale": {"y": "independent"}}
        }
      ]
    },
    {
      "spacing": 56,
      "hconcat": [
        {
          "width": 366, "height": 252,
          "title": {"text": "[Measured data during 29/Aug. 9:00\u00a0 and 9:30 (e)]", "orient": "bottom", "anchor": "middle", "frame": "group", "offset": 30},
          "encoding": {
            "x": {"field": "t", "type": "quantitative", "scale": {"domain": [0, 1800], "nice": false, "zero": false},
              "axis": {"values": [0,110,220,330,440,550,660,770,880,990,1100,1210,1320,1430,1540,1650,1760],
                "labelExpr": "utcFormat((datum.value + 32400) * 1000, '%-H:%M:%S')",
                "labelAngle": 270, "labelPadding": 3, "tickSize": 4, "grid": false, "title": null}}
          },
          "layer": [
            {
              "data": {"name": "e_l"},
              "encoding": {
                "y": {"field": "v", "type": "quantitative", "scale": {"domain": [0, 100], "nice": false, "zero": false},
                  "axis": {"values": [0,10,20,30,40,50,60,70,80,90,100], "format": ".1f", "grid": true, "labelPadding": 5,
                    "title": "Electric\u00a0 Power\u00a0\u00a0\u00a0\u00a0\u00a0\u00a0\u00a0 kW", "titlePadding": 12}}
              },
              "layer": [
                {"transform": [{"filter": "datum.s == 'CP-1'"}], "mark": {"type": "line", "color": "#333333", "opacity": 0.3, "strokeWidth": 2.2, "xOffset": 3, "yOffset": 2, "interpolate": "monotone"}},
                {"transform": [{"filter": "datum.s == 'CP-1'"}], "mark": {"type": "line", "color": "#3d8bd0", "strokeWidth": 2.2, "interpolate": "monotone"}},
                {"transform": [{"filter": "datum.s == 'CP-2'"}], "mark": {"type": "line", "color": "#333333", "opacity": 0.3, "strokeWidth": 2.2, "xOffset": 3, "yOffset": 2, "interpolate": "monotone"}},
                {"transform": [{"filter": "datum.s == 'CP-2'"}], "mark": {"type": "line", "color": "#dc2a45", "strokeWidth": 2.2, "interpolate": "monotone"}},
                {"transform": [{"filter": "datum.s == 'CP-3'"}], "mark": {"type": "line", "color": "#b2c43a", "strokeWidth": 2.4, "interpolate": "monotone"}}
              ]
            },
            {
              "data": {"name": "e_p"},
              "encoding": {
                "y": {"field": "v", "type": "quantitative", "scale": {"domain": [0, 8], "nice": false, "zero": false},
                  "axis": {"orient": "right", "values": [0,1,2,3,4,5,6,7,8], "format": ".2f", "grid": false, "labelPadding": 12,
                    "title": "Press.\u00a0\u00a0 Bar", "titleAngle": 270, "titleBaseline": "top", "titlePadding": 4}}
              },
              "layer": [
                {"mark": {"type": "line", "color": "#333333", "opacity": 0.3, "strokeWidth": 2.2, "xOffset": 3, "yOffset": 2}},
                {"mark": {"type": "line", "color": "#6a4f93", "strokeWidth": 2.4}}
              ]
            }
          ],
          "resolve": {"scale": {"y": "independent"}}
        },
        {
          "width": 352, "height": 242,
          "title": {"text": "[Measured data during 29/Aug. 10:40\u00a0 and 11:10 (f)]", "orient": "bottom", "anchor": "middle", "frame": "group", "offset": 32},
          "encoding": {
            "x": {"field": "t", "type": "quantitative", "scale": {"domain": [0, 1800], "nice": false, "zero": false},
              "axis": {"values": [0,110,220,330,440,550,660,770,880,990,1100,1210,1320,1430,1540,1650,1760],
                "labelExpr": "utcFormat((datum.value + 38400) * 1000, '%-H:%M:%S')",
                "labelAngle": 270, "labelPadding": 3, "tickSize": 4, "grid": false, "title": null}}
          },
          "layer": [
            {
              "data": {"name": "f_l"},
              "encoding": {
                "y": {"field": "v", "type": "quantitative", "scale": {"domain": [0, 100], "nice": false, "zero": false},
                  "axis": {"values": [0,10,20,30,40,50,60,70,80,90,100], "format": ".1f", "grid": true, "labelPadding": 6,
                    "title": "Electric\u00a0 Power\u00a0\u00a0\u00a0\u00a0\u00a0\u00a0\u00a0 kW", "titlePadding": 13}}
              },
              "layer": [
                {"transform": [{"filter": "datum.s == 'CP-2'"}], "mark": {"type": "line", "color": "#3a2a3a", "opacity": 0.45, "strokeWidth": 2.2, "xOffset": 3, "yOffset": 2, "interpolate": "monotone"}},
                {"transform": [{"filter": "datum.s == 'CP-2'"}], "mark": {"type": "line", "color": "#dc2a45", "strokeWidth": 2.2, "interpolate": "monotone"}},
                {"transform": [{"filter": "datum.s == 'CP-3'"}], "mark": {"type": "line", "color": "#b2c43a", "strokeWidth": 2.4, "interpolate": "monotone"}}
              ]
            },
            {
              "data": {"name": "f_p"},
              "encoding": {
                "y": {"field": "v", "type": "quantitative", "scale": {"domain": [0, 8], "nice": false, "zero": false},
                  "axis": {"orient": "right", "values": [0,1,2,3,4,5,6,7,8], "format": ".2f", "grid": false, "labelPadding": 12,
                    "title": "Press.\u00a0\u00a0 Bar", "titleAngle": 270, "titleBaseline": "top", "titlePadding": 4}}
              },
              "layer": [
                {"mark": {"type": "line", "color": "#333333", "opacity": 0.3, "strokeWidth": 2.2, "xOffset": 3, "yOffset": 2}},
                {"mark": {"type": "line", "color": "#6a4f93", "strokeWidth": 2.4}}
              ]
            }
          ],
          "resolve": {"scale": {"y": "independent"}}
        }
      ]
    }
  ]
}
